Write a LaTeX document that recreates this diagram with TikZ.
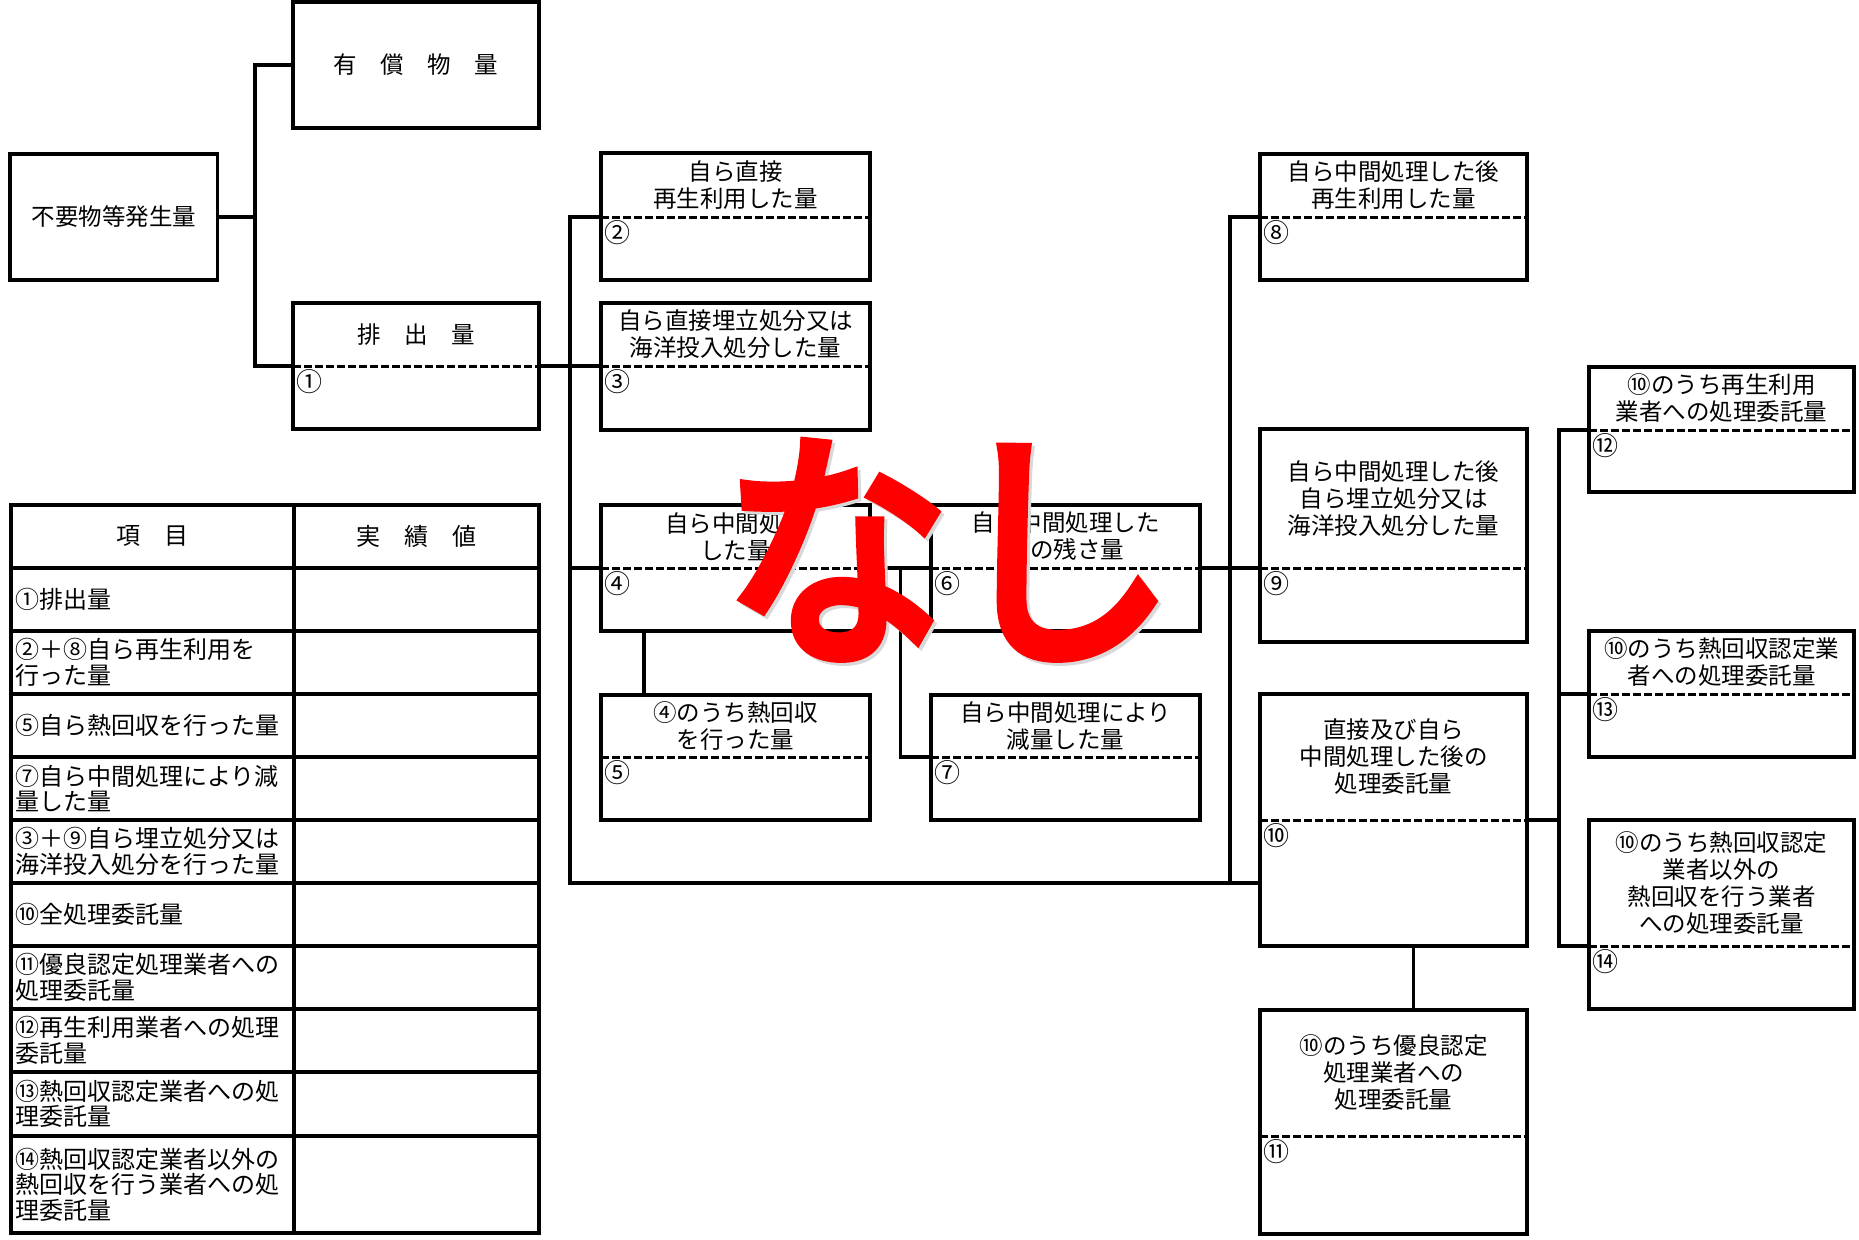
\documentclass[tikz,border=0pt]{standalone}
\usepackage{fontspec}
\setmainfont{Noto Sans CJK JP}
\newfontfamily\stampfont{Noto Sans CJK JP}[FakeBold=5]
\usepackage{tikz}
\usetikzlibrary{calc}

\tikzset{
  box/.style={draw, line width=3.3pt, rectangle, inner sep=0pt, outer sep=0pt},
  wire/.style={line width=3.3pt},
  cut/.style={line width=3pt, dash pattern=on 8pt off 3pt},
  tline/.style={line width=3.6pt},
  lbl/.style={align=center, inner sep=0pt, font=\fontsize{23.5}{27}\selectfont},
  num/.style={inner sep=0pt, anchor=north west, font=\fontsize{26}{27}\selectfont},
  cell/.style={align=left, inner sep=0pt, font=\fontsize{24}{25.5}\selectfont},
  stamp/.style={inner sep=0pt, font=\fontsize{250}{250}\stampfont},
}

\begin{document}
\begin{tikzpicture}[x=1pt,y=-1pt]
    \useasboundingbox (0,0) rectangle (1859,1239);

    % Generated amount
    \node[box, anchor=north west, minimum width=207.5, minimum height=126] (gen) at (10,154) {};
    \node[lbl] (tgen) at (gen.center) {不要物等発生量};
    \node[box, anchor=north west, minimum width=246, minimum height=126] (yusho) at (293,2) {};
    \node[lbl] (tyusho) at (yusho.center) {有\quad 償\quad 物\quad 量};

    % Boxes with a dashed split: title above, number below
    \foreach \n/\xa/\ya/\xb/\yb/\yd/\num/\txt in {
        1/293/303/539/429/366/①/{排\quad 出\quad 量},
        2/601/153/870/280/217/②/{自ら直接\\再生利用した量},
        3/601/303/870/430/366/③/{自ら直接埋立処分又は\\海洋投入処分した量},
        4/601/505/870/631/568/④/{自ら中間処理\\した量},
        5/601/695/870/820/757/⑤/{④のうち熱回収\\を行った量},
        6/931/505/1200/631/568/⑥/{自ら中間処理した\\後の残さ量},
        7/931/695/1200/820/757/⑦/{自ら中間処理により\\減量した量},
        8/1260/154/1527/280/217/⑧/{自ら中間処理した後\\再生利用した量},
        9/1260/429/1527/642/568/⑨/{自ら中間処理した後\\自ら埋立処分又は\\海洋投入処分した量},
        10/1260/694/1527/946/820/⑩/{直接及び自ら\\中間処理した後の\\処理委託量},
        11/1260/1010/1527/1234/1136/⑪/{⑩のうち優良認定\\処理業者への\\処理委託量},
        12/1589/367/1854/492/430/⑫/{⑩のうち再生利用\\業者への処理委託量},
        13/1589/631/1854/757/694/⑬/{⑩のうち熱回収認定業\\者への処理委託量},
        14/1589/820/1854/1009/946/⑭/{⑩のうち熱回収認定\\業者以外の\\熱回収を行う業者\\への処理委託量}}
    {
        \node[box, anchor=north west, minimum width=\xb-\xa, minimum height=\yb-\ya] (b\n) at (\xa,\ya) {};
        \coordinate (l\n) at (\xa,\yd);
        \coordinate (r\n) at (\xb,\yd);
        \draw[cut] (l\n) -- (r\n);
        \node[lbl] (t\n) at ({(\xa+\xb)/2},{(\ya+\yd)/2}) {\txt};
        \node[num] (n\n) at (\xa+3,\yd+3) {\num};
    }

    % Split of the generated amount
    \coordinate (j1) at (255,217);
    \draw[wire] (gen.east) -- (j1);
    \draw[wire] (yusho.west) -| (j1) |- (l1);

    % Own handling of the discharged amount
    \coordinate (s1) at (570,217);
    \coordinate (s1b) at (570,883);
    \draw[wire] (l2) -- (s1) -- (s1b) -- (b10.west |- s1b);
    \draw[wire] (r1) -- (l3);
    \draw[wire] (s1 |- l4) -- (l4);
    \draw[wire] (r4) -- (l6);
    \draw[wire] ($(r4)!.5!(l6)$) |- (l7);
    \draw[wire] ($(b4.south west)!.16!(b4.south east)$) -- ($(b5.north west)!.16!(b5.north east)$);

    % After own intermediate treatment
    \coordinate (s2) at (1230,217);
    \draw[wire] (l8) -- (s2) -- (s2 |- s1b);
    \draw[wire] (r6) -- (l9);

    % Entrusted amount
    \coordinate (s3) at (1559,430);
    \draw[wire] (l12) -- (s3) -- (s3 |- l14) -- (l14);
    \draw[wire] (r10) -- (r10 -| s3);
    \draw[wire] (s3 |- l13) -- (l13);
    \draw[wire] ($(b10.south west)!.575!(b10.south east)$) -- ($(b11.north west)!.575!(b11.north east)$);

    % Results table
    \draw[tline] (11,505) rectangle (539,1233);
    \draw[tline] (294,505) -- (294,1233);
    \foreach \y in {568,631,694,757,820,883,946,1009,1072,1136}
        \draw[tline] (11,\y) -- (539,\y);
    \node[cell] (hd1) at (152,536) {項\quad 目};
    \node[cell] (hd2) at (416,536) {実\quad 績\quad 値};
    \foreach \i/\y/\txt in {
        1/599.5/{①排出量},
        2/662.5/{②＋⑧自ら再生利用を\\行った量},
        3/725.5/{⑤自ら熱回収を行った量},
        4/788.5/{⑦自ら中間処理により減\\量した量},
        5/851.5/{③＋⑨自ら埋立処分又は\\海洋投入処分を行った量},
        6/914.5/{⑩全処理委託量},
        7/977.5/{⑪優良認定処理業者への\\処理委託量},
        8/1040.5/{⑫再生利用業者への処理\\委託量},
        9/1104/{⑬熱回収認定業者への処\\理委託量},
        10/1184.5/{⑭熱回収認定業者以外の\\熱回収を行う業者への処\\理委託量}}
        \node[cell, anchor=west] (row\i) at (15,\y) {\txt};

    % Stamp
    \node[stamp, text=gray!30] (nashis) at (952,553) {\scalebox{0.9}[1]{なし}};
    \node[stamp, text=red] (nashi) at (949,550) {\scalebox{0.9}[1]{なし}};
\end{tikzpicture}
\end{document}
